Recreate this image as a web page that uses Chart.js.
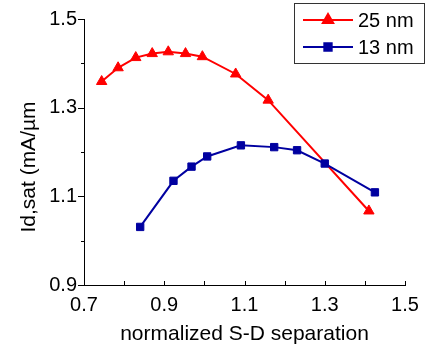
<!DOCTYPE html>
<html>
<head>
<meta charset="utf-8">
<script src="https://cdn.jsdelivr.net/npm/chart.js@4/dist/chart.umd.min.js"></script>
<style>
html,body{margin:0;padding:0;background:#fff;}
#wrap{width:443px;height:347px;position:relative;}
</style>
</head>
<body>
<div id="wrap"><canvas id="c" width="443" height="347"></canvas></div>
<script>
const seriesNames = ["25 nm", "13 nm"];
const x25 = [0.744, 0.785, 0.829, 0.870, 0.910, 0.953, 0.995, 1.078, 1.159, 1.410];
const y25 = [1.359, 1.390, 1.413, 1.422, 1.426, 1.422, 1.415, 1.376, 1.317, 1.067];
const x13 = [0.840, 0.923, 0.968, 1.007, 1.091, 1.174, 1.231, 1.300, 1.425];
const y13 = [1.031, 1.135, 1.167, 1.190, 1.215, 1.211, 1.204, 1.174, 1.109];
const xTitle = "normalized S-D separation";
const yTitle = "Id,sat (mA/\u00b5m";

const FONT = "'Liberation Sans', Arial, sans-serif";
const RED = "#ff0000";
const BLUE = "#0000a0";

function pts(xs, ys){ return xs.map((x,i)=>({x:x, y:ys[i]})); }
function isMajor(v){ return Math.round(v*10) % 2 !== 0; }

const tickPlugin = {
  id: 'ticksAndLegend',
  afterDraw(chart){
    const ctx = chart.ctx;
    const xs = chart.scales.x, ys = chart.scales.y;
    const a = chart.chartArea;
    ctx.save();
    ctx.strokeStyle = '#000';
    ctx.lineWidth = 1;
    // x ticks (inward)
    xs.ticks.forEach(t=>{
      const p = Math.round(xs.getPixelForValue(t.value)) + 0.5;
      ctx.beginPath();
      ctx.moveTo(p, a.bottom);
      ctx.lineTo(p, a.bottom - 4);
      ctx.stroke();
    });
    // y ticks (outward)
    ys.ticks.forEach(t=>{
      const p = Math.round(ys.getPixelForValue(t.value)) + 0.5;
      const len = isMajor(t.value) ? 6 : 3;
      ctx.beginPath();
      ctx.moveTo(a.left, p);
      ctx.lineTo(a.left - len, p);
      ctx.stroke();
    });
    // y title
    ctx.fillStyle = '#000';
    ctx.font = "21px " + FONT;
    ctx.textAlign = 'center';
    ctx.textBaseline = 'middle';
    ctx.translate(29, 167);
    ctx.rotate(-Math.PI/2);
    ctx.fillText(yTitle, 0, 0);
    ctx.restore();

    // legend
    ctx.save();
    const lx = 294.5, ly = 3.5, lw = 130, lh = 60;
    ctx.fillStyle = '#fff';
    ctx.fillRect(lx, ly, lw, lh);
    ctx.strokeStyle = '#333';
    ctx.lineWidth = 1;
    ctx.strokeRect(lx, ly, lw, lh);
    chart.data.datasets.slice().sort((p,q)=>p.legendIndex-q.legendIndex).forEach((ds, i)=>{
      const yy = 20 + i*27;
      ctx.strokeStyle = ds.borderColor;
      ctx.lineWidth = 2;
      ctx.beginPath();
      ctx.moveTo(303, yy);
      ctx.lineTo(353, yy);
      ctx.stroke();
      Chart.helpers.drawPoint(ctx, {pointStyle: ds.pointStyle, radius: ds.pointRadius, borderWidth: 1}, 328, yy);
      ctx.fillStyle = ds.pointBackgroundColor;
      ctx.strokeStyle = ds.pointBorderColor;
      ctx.lineWidth = 1;
      ctx.fill();
      ctx.fillStyle = '#000';
      ctx.font = "20px " + FONT;
      ctx.textAlign = 'left';
      ctx.textBaseline = 'middle';
      ctx.fillText(ds.label, 358, yy + 1);
    });
    ctx.restore();
  }
};

new Chart(document.getElementById('c'), {
  type: 'scatter',
  data: {
    datasets: [
      {
        label: seriesNames[0], legendIndex: 0, order: 2,
        data: pts(x25, y25), showLine: true, tension: 0,
        borderColor: RED, borderWidth: 2,
        pointStyle: 'triangle', pointRadius: 6,
        pointBackgroundColor: RED, pointBorderColor: RED, pointBorderWidth: 1
      },
      {
        label: seriesNames[1], legendIndex: 1, order: 1,
        data: pts(x13, y13), showLine: true, tension: 0,
        borderColor: BLUE, borderWidth: 2,
        pointStyle: 'rect', pointRadius: 5.2,
        pointBackgroundColor: BLUE, pointBorderColor: BLUE, pointBorderWidth: 1
      }
    ]
  },
  options: {
    responsive: false,
    animation: false,
    events: [],
    layout: { padding: { top: 15, right: 38, left: 0, bottom: 0 } },
    plugins: { legend: { display: false }, tooltip: { enabled: false } },
    scales: {
      x: {
        type: 'linear', min: 0.7, max: 1.5,
        afterFit: s => { s.height = 62; },
        grid: { display: false, drawTicks: false },
        border: { display: true, color: '#000', width: 1 },
        ticks: {
          stepSize: 0.1, autoSkip: false, maxRotation: 0, padding: 8,
          color: '#000', font: { family: FONT, size: 20 },
          callback: v => isMajor(v) ? v.toFixed(1) : ''
        },
        title: { display: true, text: xTitle, color: '#000', font: { family: FONT, size: 21 }, padding: { top: 2, bottom: 0 } }
      },
      y: {
        type: 'linear', min: 0.9, max: 1.5,
        afterFit: s => { s.width = 84; },
        grid: { display: false, drawTicks: false },
        border: { display: true, color: '#000', width: 1 },
        ticks: {
          stepSize: 0.1, autoSkip: false, padding: 7,
          color: '#000', font: { family: FONT, size: 20 },
          callback: v => isMajor(v) ? v.toFixed(1) : ''
        }
      }
    }
  },
  plugins: [tickPlugin]
});
</script>
</body>
</html>
